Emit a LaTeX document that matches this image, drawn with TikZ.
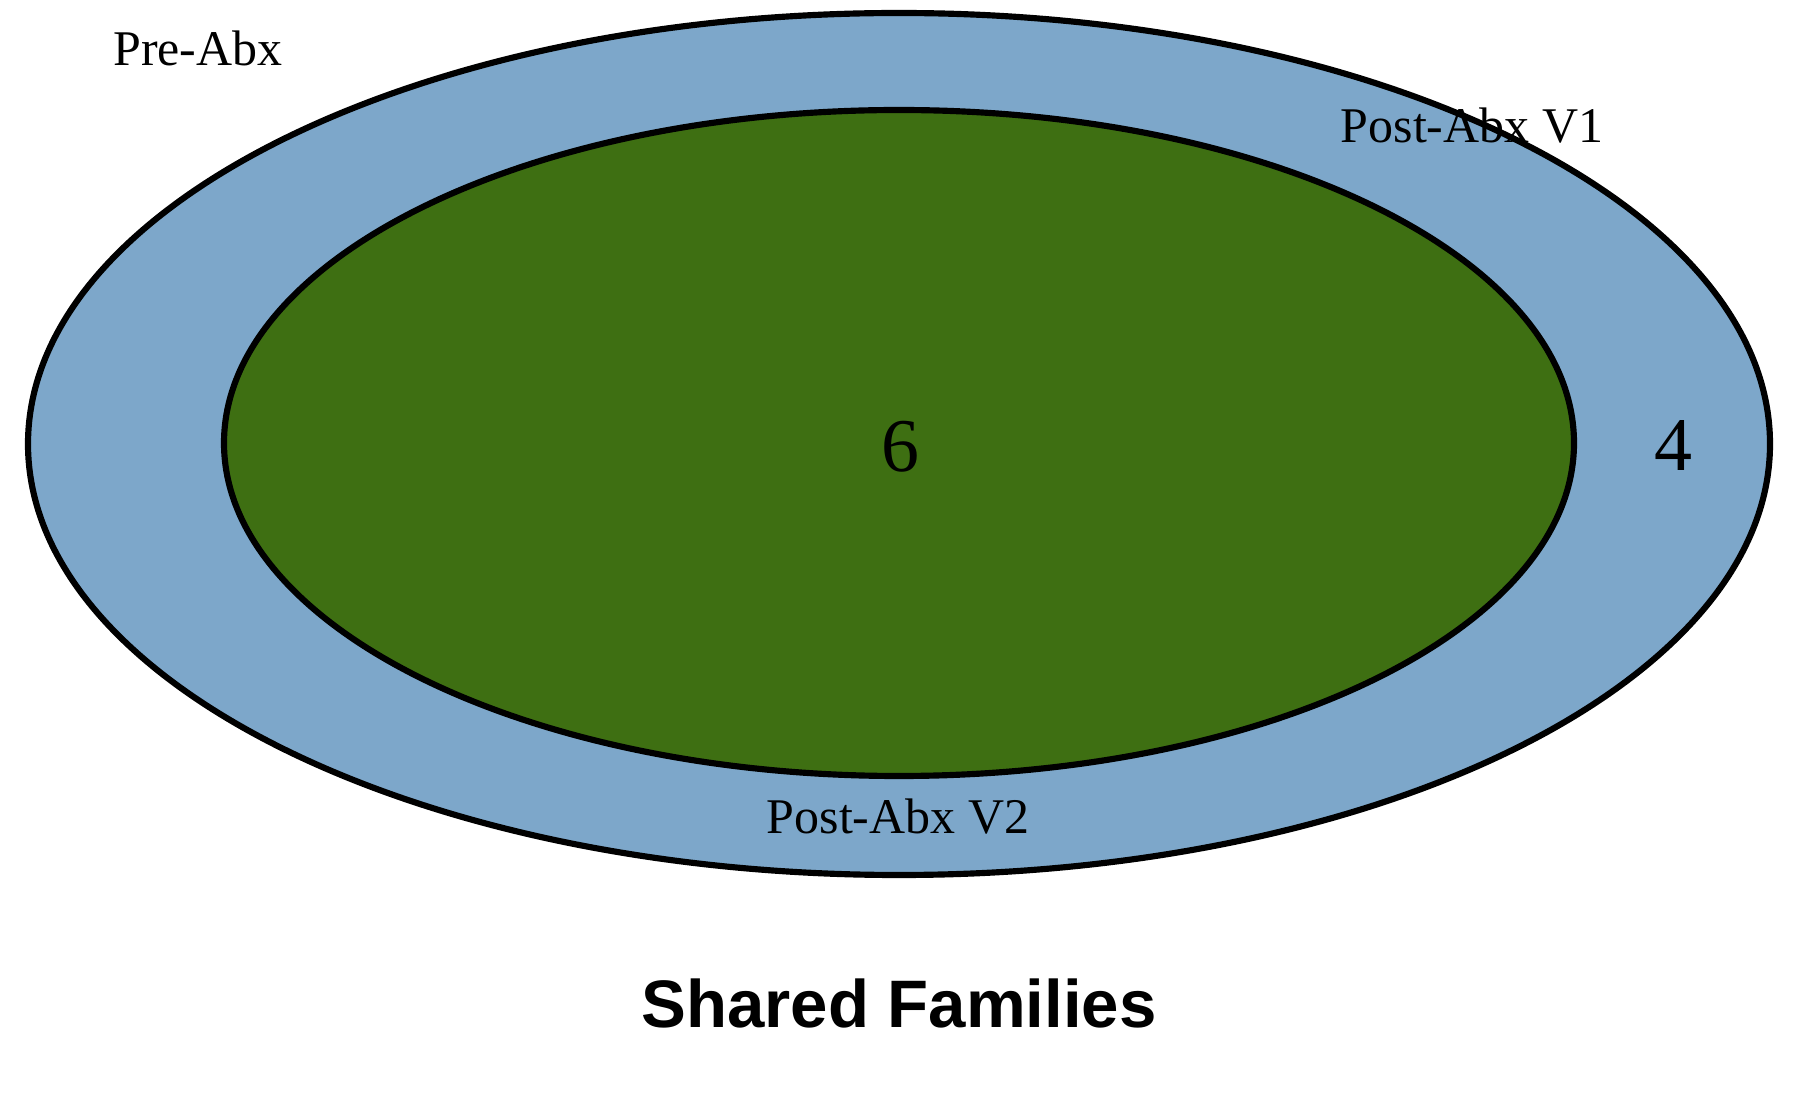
\documentclass[tikz,border=0pt]{standalone}
\usepackage{fontspec}
\setmainfont{Liberation Serif}
\newfontfamily\titlefont{Liberation Sans}
\definecolor{setblue}{HTML}{7DA7CA}
\definecolor{setgreen}{HTML}{3E6F12}
\tikzset{
  setline/.style={line width=1.75pt, draw=black},
  setlabel/.style={anchor=base, inner sep=0pt, font=\fontsize{14.2pt}{17pt}\selectfont},
  countlabel/.style={anchor=base, inner sep=0pt, font=\fontsize{21.6pt}{25pt}\selectfont},
  titlelabel/.style={anchor=base, inner sep=0pt, font=\titlefont\bfseries\fontsize{19.1pt}{23pt}\selectfont}
}
\begin{document}
\begin{tikzpicture}[x=0.01cm,y=-0.01cm]
\useasboundingbox (0,0) rectangle (1800,1113);
\fill[white] (0,0) rectangle (1800,1113);
% outer ellipse (Pre-Abx / Post-Abx V1)
\filldraw[setline, fill=setblue] (899,444) ellipse [x radius=871, y radius=431];
% inner ellipse (Post-Abx V2)
\filldraw[setline, fill=setgreen] (899,443) ellipse [x radius=675, y radius=333];
% labels
\node[setlabel] (pre) at (198,66) {Pre-Abx};
\node[setlabel] (v1) at (1472,143) {Post-Abx V1};
\node[setlabel] (v2) at (898,833) {Post-Abx V2};
\node[countlabel] (six) at (900,472) {6};
\node[countlabel] (four) at (1673,471) {4};
\node[titlelabel] (title) at (899,1027) {Shared Families};
\end{tikzpicture}
\end{document}
